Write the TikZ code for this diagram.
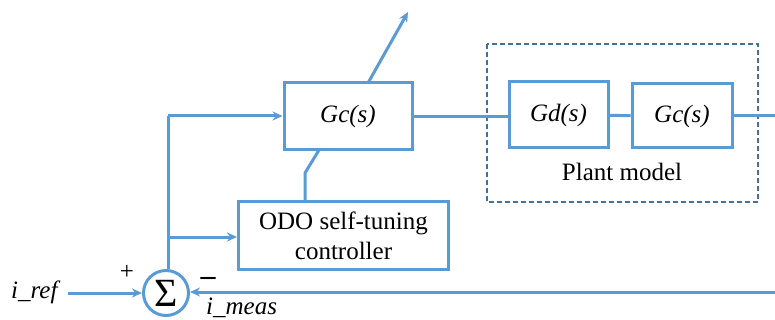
\documentclass[tikz,border=0pt]{standalone}
\usepackage{fontspec}
\setmainfont{Liberation Serif}
\usetikzlibrary{arrows.meta}

\definecolor{lineblue}{HTML}{5B9BD5}
\definecolor{dashblue}{HTML}{41719C}

\begin{document}
\begin{tikzpicture}[x=1pt,y=-1pt]

\tikzstyle{block}=[draw=lineblue, line width=3pt, rectangle, inner sep=0pt, font=\fontsize{25}{30}\selectfont]
\tikzstyle{wire}=[draw=lineblue, line width=3pt]
\tikzstyle{edge}=[wire, -{Stealth[length=10pt,width=9pt]}]
\tikzstyle{lbl}=[inner sep=0pt, font=\fontsize{25}{30}\selectfont]

\useasboundingbox (0,0) rectangle (775,320);

% plant model frame
\draw[dashblue, line width=1.8pt, dash pattern=on 5pt off 3pt] (487,44) rectangle (758,202);
\node[lbl] (plant) at (622,172) {Plant model};

% blocks
\node[block, minimum width=128pt, minimum height=67pt] (gc) at (348,116.5) {\itshape Gc(s)};
\node[block, minimum width=99pt, minimum height=66pt] (gd) at (558.5,115) {\itshape Gd(s)};
\node[block, minimum width=100pt, minimum height=64pt] (gp) at (682,116) {\itshape Gc(s)};
\node[block, minimum width=210pt, minimum height=67pt, align=center] (odo) at (343.5,235.5) {ODO self-tuning\\controller};
\node[draw=lineblue, line width=3pt, circle, minimum size=45pt, inner sep=0pt, font=\fontsize{40}{40}\selectfont] (sum) at (166,293) {Σ};

% signals and signs
\node[lbl, anchor=base west] (ref) at (11,298) {\itshape i\_ref};
\node[lbl, anchor=base west] (meas) at (206,314) {\itshape i\_meas};
\node[lbl] (plus) at (127,272) {+};
\node[lbl, font=\fontsize{30}{30}\selectfont\bfseries] (minus) at (208,281) {--};

\coordinate (top) at (168,116);
\coordinate (branch) at (168,237);
\coordinate (kink) at (305,173);
\coordinate (tune) at (408,12);
\coordinate (out) at (775,116);
\coordinate (fb) at (775,292);

% connections
\draw[edge] (ref.east |- sum) ++(10,0) -- (sum);
\draw[wire] (sum.north -| top) -- (top);
\draw[edge] (top) -- (gc.west |- top);
\draw[edge] (branch) -- (odo.west |- branch);
\draw[wire] (odo.north -| kink) -- (kink) -- (319,150);
\draw[edge] (368,83) -- (tune);
\draw[wire] (gc.east) -- (gd.west |- gc.east);
\draw[wire] (gd) -- (gp);
\draw[wire] (gp.east) -- (out);
\draw[edge] (fb) -- (sum.east |- fb);

\end{tikzpicture}
\end{document}
